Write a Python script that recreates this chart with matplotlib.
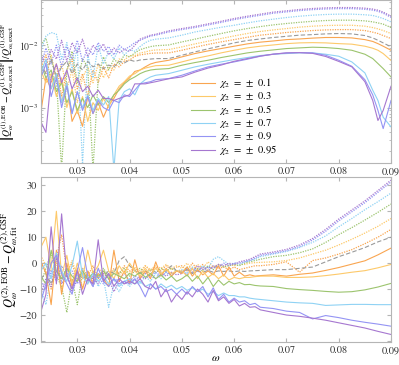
import matplotlib
matplotlib.use("Agg")
import matplotlib.pyplot as plt

# ------------------------------------------------------------
# data
# ------------------------------------------------------------
chi_labels = ["0.1", "0.3", "0.5", "0.7", "0.9", "0.95"]
colors = ["#F9A550", "#FDC96A", "#9CC46E", "#8FD2F4", "#9494F4", "#A677D0"]
gray = "#9A9A9A"

# top panel: frequency grid
w_top = [0.023, 0.024, 0.025, 0.026, 0.027, 0.028, 0.029, 0.030, 0.031, 0.032,
         0.033, 0.034, 0.035, 0.036, 0.037, 0.038, 0.039, 0.040, 0.041, 0.042,
         0.043, 0.044, 0.045,
         0.0475, 0.05, 0.0525, 0.055, 0.0575, 0.06, 0.0625, 0.065, 0.0675, 0.07,
         0.0725, 0.075, 0.0775, 0.08, 0.0825, 0.085, 0.0865, 0.0875, 0.0885, 0.09]

# top panel, solid lines (one per chi value)
top_solid_01 = [0.0008, 0.0030, 0.0020, 0.0035, 0.0012, 0.0025, 0.0006, 0.0009, 0.0005, 0.0015,
                0.0008, 0.0012, 0.0007, 0.0011, 0.0014, 0.0020, 0.0025, 0.0030, 0.0038, 0.0040,
                0.0045, 0.0050, 0.0053,
                0.00574, 0.0065, 0.00735, 0.00811, 0.00884, 0.00964, 0.0105, 0.0112, 0.0117, 0.0123,
                0.0126, 0.0130, 0.0133, 0.0133, 0.0131, 0.0123, 0.0115, 0.0106, 0.00964, 0.0083]
top_solid_03 = [0.0040, 0.0025, 0.0035, 0.0015, 0.0030, 0.0010, 0.0020, 0.0008, 0.0015, 0.0006,
                0.0012, 0.0009, 0.0014, 0.0010, 0.0016, 0.0022, 0.0026, 0.0032, 0.0035, 0.0040,
                0.0043, 0.0045, 0.0047,
                0.00478, 0.0054, 0.00611, 0.00674, 0.00753, 0.0083, 0.00906, 0.00964, 0.0101, 0.0106,
                0.0109, 0.0110, 0.0109, 0.0106, 0.0104, 0.00964, 0.00895, 0.0083, 0.00735, 0.0057]
top_solid_05 = [0.0050, 0.0030, 0.0040, 0.0018, 0.0025, 0.0012, 0.0018, 0.0009, 0.0014, 0.0010,
                0.0016, 0.0011, 0.0015, 0.0012, 0.0016, 0.0019, 0.0024, 0.0028, 0.0031, 0.0035,
                0.0038, 0.0040, 0.0041,
                0.00422, 0.00478, 0.00527, 0.00574, 0.00634, 0.00691, 0.00753, 0.00801, 0.00841, 0.00884,
                0.00906, 0.00929, 0.00917, 0.00884, 0.0083, 0.00717, 0.00611, 0.00508, 0.00422, 0.0031]
top_solid_07 = [0.0035, 0.0060, 0.0020, 0.0035, 0.0012, 0.0025, 0.0008, 0.0018, 0.0010, 0.0016,
                0.0009, 0.0014, 0.0011, 0.0015, 0.00010, 0.0013, 0.0018, 0.0020, 0.0016, 0.0024,
                0.0028, 0.0031, 0.0033,
                0.00351, 0.00397, 0.00449, 0.00495, 0.0054, 0.00589, 0.00634, 0.00683, 0.00717, 0.00735,
                0.00753, 0.00753, 0.00717, 0.00666, 0.0054, 0.0036, 0.0019, 0.0013, 0.0007, 0.00049]
top_solid_09 = [0.0030, 0.0050, 0.0015, 0.0030, 0.0010, 0.0022, 0.0008, 0.0018, 0.0009, 0.0015,
                0.0008, 0.0013, 0.0010, 0.0009, 0.0013, 0.0012, 0.0016, 0.0015, 0.0019, 0.0024,
                0.0025, 0.0026, 0.0028,
                0.00292, 0.0033, 0.00387, 0.00449, 0.00495, 0.0054, 0.00596, 0.00666, 0.00717, 0.00753,
                0.00763, 0.00753, 0.00691, 0.00574, 0.0046, 0.0028, 0.0016, 0.0009, 0.00046, 0.0013]
top_solid_095 = [0.0006, 0.0004, 0.0030, 0.0050, 0.0025, 0.0040, 0.0020, 0.0030, 0.0018, 0.0022,
                 0.0015, 0.0019, 0.0014, 0.0014, 0.0013, 0.0014, 0.0015, 0.0016, 0.0024, 0.0024,
                 0.0024, 0.0025, 0.0026,
                 0.0029, 0.0031, 0.0037, 0.0043, 0.0048, 0.00553, 0.0061, 0.0067, 0.0072, 0.00753,
                 0.0076, 0.0074, 0.0066, 0.0055, 0.0045, 0.0026, 0.0013, 0.00062, 0.0009, 0.0022]

# top panel, dotted lines
top_dot_01 = [0.0045, 0.0070, 0.0025, 0.0050, 0.0015, 0.0040, 0.0060, 0.0020, 0.0035, 0.0015,
              0.0040, 0.0025, 0.0045, 0.0030, 0.0050, 0.0045, 0.0055, 0.0058, 0.0066, 0.0070,
              0.0072, 0.0074, 0.0075,
              0.00753, 0.0083, 0.00929, 0.0103, 0.0113, 0.0123, 0.0134, 0.0145, 0.0152, 0.0160,
              0.0166, 0.0172, 0.0176, 0.0178, 0.0178, 0.0172, 0.0162, 0.0154, 0.0143, 0.0128]
top_dot_03 = [0.0060, 0.0035, 0.0070, 0.0030, 0.0050, 0.0020, 0.0040, 0.0012, 0.0030, 0.0045,
              0.0025, 0.0050, 0.0030, 0.0045, 0.0040, 0.0060, 0.0058, 0.0068, 0.0068, 0.0075,
              0.0078, 0.0082, 0.0084,
              0.00852, 0.0094, 0.0105, 0.0116, 0.0128, 0.0141, 0.0154, 0.0166, 0.0176, 0.0185,
              0.0195, 0.0202, 0.0207, 0.0209, 0.0209, 0.0202, 0.0192, 0.0183, 0.0172, 0.0154]
top_dot_05 = [0.0100, 0.0130, 0.0060, 0.0030, 0.00010, 0.0040, 0.0080, 0.0025, 0.0060, 0.0045,
              0.00010, 0.0030, 0.0065, 0.0040, 0.0060, 0.0050, 0.0070, 0.0065, 0.0075, 0.0085,
              0.0090, 0.0095, 0.0098,
              0.0101, 0.0113, 0.0125, 0.0139, 0.0154, 0.0170, 0.0185, 0.0199, 0.0212, 0.0223,
              0.0233, 0.0242, 0.0249, 0.0252, 0.0252, 0.0246, 0.0237, 0.0228, 0.0218, 0.0192]
top_dot_07 = [0.0080, 0.0140, 0.0160, 0.0150, 0.0060, 0.0110, 0.0040, 0.0090, 0.00012, 0.0070,
              0.0030, 0.0100, 0.0050, 0.0080, 0.0060, 0.0090, 0.0070, 0.0085, 0.0080, 0.0095,
              0.0110, 0.0120, 0.0125,
              0.0131, 0.0145, 0.0163, 0.0178, 0.0194, 0.0209, 0.0228, 0.0246, 0.0262, 0.0278,
              0.0292, 0.0303, 0.0311, 0.0315, 0.0315, 0.0308, 0.0300, 0.0285, 0.0268, 0.0237]
top_dot_09 = [0.0045, 0.0090, 0.0050, 0.0100, 0.0045, 0.0095, 0.0060, 0.0120, 0.0055, 0.0090,
              0.0070, 0.0110, 0.0080, 0.0095, 0.0070, 0.0100, 0.0085, 0.0095, 0.0110, 0.0120,
              0.0130, 0.0140, 0.0145,
              0.0163, 0.0178, 0.0192, 0.0211, 0.0232, 0.0257, 0.0280, 0.0302, 0.0326, 0.0342,
              0.0359, 0.0372, 0.0381, 0.0386, 0.0386, 0.0377, 0.0365, 0.0350, 0.0326, 0.0280]
top_dot_095 = [0.0070, 0.0050, 0.0085, 0.0060, 0.0120, 0.0055, 0.0110, 0.0075, 0.0125, 0.0065,
               0.0100, 0.0080, 0.0105, 0.0070, 0.0090, 0.0075, 0.0085, 0.0080, 0.0100, 0.0125,
               0.0135, 0.0145, 0.0150,
               0.0170, 0.0185, 0.0200, 0.0220, 0.0242, 0.0268, 0.0292, 0.0315, 0.0340, 0.0356,
               0.0374, 0.0388, 0.0397, 0.0402, 0.0402, 0.0393, 0.0380, 0.0365, 0.0340, 0.0292]
top_zero = [0.0050, 0.0035, 0.0060, 0.0030, 0.0045, 0.0055, 0.0035, 0.0050, 0.0040, 0.0055,
            0.0045, 0.0050, 0.0042, 0.0048, 0.0045, 0.0055, 0.0052, 0.0058, 0.0055, 0.0058,
            0.0059, 0.0060, 0.0061,
            0.00611, 0.0069, 0.00782, 0.00874, 0.00976, 0.0109, 0.0119, 0.0126, 0.0133, 0.0139,
            0.0145, 0.0148, 0.0152, 0.0154, 0.0152, 0.0143, 0.0131, 0.0120, 0.0109, 0.0094]

# bottom panel: frequency grid
w_bot = [0.023, 0.024, 0.025, 0.026, 0.027, 0.028, 0.029, 0.030, 0.031, 0.032,
         0.033, 0.034, 0.035, 0.036, 0.037, 0.038, 0.039, 0.040, 0.041, 0.042,
         0.043, 0.044, 0.045, 0.046, 0.047, 0.048, 0.049,
         0.050, 0.051, 0.052, 0.053, 0.054, 0.055, 0.056, 0.057, 0.058, 0.059,
         0.060, 0.061, 0.062, 0.063, 0.064, 0.065,
         0.0675, 0.07, 0.0725, 0.075, 0.0775, 0.08, 0.0825, 0.085, 0.0875, 0.09]

bot_solid_01 = [1, -4, -16, 5, -12, 0, -9, -2, -10, -3, -8, -4, -6, -9, 5, -7, -3, -8, 1.3, -6,
                -3, -6, 0.5, -5, -2, -5, -3,
                -4, -1.5, -5, -2.5, -4.5, -3, -4.5, -1.0, -5, -1.5, -5, -3.5, -5, -4.5, -5, -4.8,
                -4.5, -5.0, -4.3, -3.8, -2.8, -1.7, -0.4, 0.9, 3.2, 5.8]
bot_solid_03 = [6, 10, -2, 20, -5, 3, -8, 0, -6, 5, -4, -1, 5, -3, -6, -1, -4, 0, -3, -5,
                -2, -4.5, -2, -4, -2.5, -4, -3,
                -3, -5, -2, -6, -3, -5.5, -4, -6, -4.5, -6.5, -5.5, -6, -5.5, -5.5, -5.2, -5.0,
                -5.0, -5.5, -5.5, -5.3, -4.8, -4.2, -3.5, -2.9, -1.8, -0.5]
bot_solid_05 = [-5, -8, 5, -3, -6, -2, -5, -7, -3, -6, -4, -5, -3, -6, -4, -5, -6, -4, -5, -3.5,
                -5.5, -4, -6, -4.5, -6.5, -5, -7,
                -6, -4.5, -7, -5, -8, -5.5, -9, -6.5, -8.5, -7, -8, -7.5, -8.3, -8.2, -8.6, -8.8,
                -9.0, -9.8, -10.2, -10.5, -10.9, -11.2, -11.0, -10.3, -9.2, -7.8]
bot_solid_07 = [-3, 0, -6, 4, -3, -7, -1, 8.5, -5, -8, -4, -7, -5, -8, -6, -9, -7, -6, -8, -7,
                -9, -8, -10, -8, -9.5, -8.5, -10,
                -9, -10.5, -9.5, -11, -10, -12, -11, -12.5, -11.5, -12.5, -12.5, -13, -13, -13.5, -13.8, -14,
                -14.5, -15.0, -15.3, -15.5, -16.3, -16.1, -15.9, -15.9, -16.0, -16.0]
bot_solid_09 = [-15, -8, 0, 3, -4, -8, -12, -3, 6, -5, -9, -2, -7, -9, -6, -8, -7, -8, -6, -9,
                -13, -8, -10, -9, -11, -10, -12,
                -10, -12, -9, -11, -9, -13, -9.5, -14, -12, -15, -13.5, -15, -14.5, -16, -15.5, -17,
                -17.5, -18.5, -19.0, -21.5, -20.2, -21.0, -22.0, -22.8, -23.5, -24.3]
bot_solid_095 = [-19, -12, 14, -8, 19, -5, -10, -3, -12, -6, -8, 9, -7, -4, -9, -6, -8, -7, -8, -6,
                 -9, -10, -7, -13, -10, -15, -12,
                 -14, -11, -13, -10, -12, -15, -10.5, -14.5, -13, -15.5, -14, -16.5, -15.5, -17, -16.8, -18,
                 -19.0, -20.0, -20.5, -21.2, -22.0, -23.0, -24.0, -25.0, -26.3, -27.5]

bot_dot_01 = [0, -3, -10, 2, 11, -3, 0, -7, -2, -5, -1, -6, -3, -5, -2, -4, -1, -3, -2, -4,
              -1, -3, -1.5, -3, -1, -2.5, -1.5,
              -1, -3, 0, -2.5, -0.5, -3, -1, -2, -1.5, -2.5, -1.5, -2.5, -2.0, -1.5, -1.0, -1.0,
              -0.5, 0.5, -3.5, 1.0, 2.0, 3.5, 5.2, 7.5, 10.0, 13.0]
bot_dot_03 = [3, -1, -3, 0, -10, -4, 1, -5, -9, -3, -7, -2, -4, -6, -3, -5, -2, -4, -1.5, -3,
              -1, -2.5, -1, -2, -0.5, -2, -1,
              -2, 0, -2.5, -0.5, -2, 0.5, -1.5, -0.5, -1.5, -0.5, -1, -0.5, -0.5, 0, 0.2, 0.3,
              0.5, 1.0, 2.0, 3.5, 5.0, 7.0, 9.2, 11.6, 14.2, 17.2]
bot_dot_05 = [-8, -2, 4, -5, -9, -19, -6, -16, -4, -8, -3, -6, -2, -5, -3, -4, -2, -5, -3, -2,
              -4, -2.5, -3.5, -2, -3, -2, -3,
              -3.5, -1.5, -4, -2, -3, -1, -2.5, -0.5, -1.5, -1, -0.5, -1, 0, 0.5, 1.0, 1.5,
              2.5, 3.0, 4.0, 5.5, 8.0, 11.0, 13.7, 16.6, 19.6, 22.8]
bot_dot_07 = [-10, -16, -4, 2, -7, -3, -10, -5, -2, -7, -4, -9, -6, -17, -8, -11, -7, -9, -6, -8,
              -5, -7, -4, -6, -3.5, -5, -3,
              -2.5, -4, -1.5, -3, -1, -2, 1.5, 2.5, 1.0, -0.5, 0.0, -0.5, 0.5, 1.0, 1.5, 2.5,
              3.5, 4.5, 6.0, 8.0, 10.5, 14.0, 17.2, 20.6, 23.7, 27.0]
bot_dot_09 = [-7, -10, -3, -7, -1, -5, -3, -8, -4, -6, -9, -5, -8, -4, -7, -6, -4, -7, -5, -6,
              -4, -5, -3.5, -5, -3.5, -4.5, -3,
              -3, -4.5, -2, -3.5, -1.5, -3, -1, -1.5, 0, -1, 0, 0, 0.5, 1.0, 2.0, 3.0,
              3.8, 4.8, 6.4, 8.9, 12.3, 16.3, 19.8, 23.3, 27.3, 31.3]
bot_dot_095 = [-12, -6, -9, 2, -8, -4, -11, -6, -3, -7, -5, -8, -4, -6, -11, -7, -8, -6, -7, -5,
               -6, -4.5, -6, -4, -5, -3.5, -4.5,
               -4, -2, -3.5, -1, -2.5, -1.5, -2, -0.5, -1, 0, -0.5, 0.5, 1.0, 1.5, 2.5, 3.5,
               4.3, 5.3, 7.0, 9.5, 13.0, 17.0, 20.5, 24.0, 28.0, 32.0]
bot_zero = [-6, -4, -8, -3, -6, -5, -7, -4, -6, -5, -6, -4, -5, -3, -4, 1, 2.5, -1, -3, -4,
            -3, -4, -3, -3.5, -3, -1, -3,
            -3.5, -2.5, -4, -3, -3.5, -2.8, -3.5, -3, -3.2, -3.0, -3.3, -3.0, -3.2, -3.0, -2.9, -2.8,
            -2.5, -2.5, -2.0, -1.5, 0.5, 2.5, 4.2, 6.0, 8.2, 10.0]

top_solid = [top_solid_01, top_solid_03, top_solid_05, top_solid_07, top_solid_09, top_solid_095]
top_dot = [top_dot_01, top_dot_03, top_dot_05, top_dot_07, top_dot_09, top_dot_095]
bot_solid = [bot_solid_01, bot_solid_03, bot_solid_05, bot_solid_07, bot_solid_09, bot_solid_095]
bot_dot = [bot_dot_01, bot_dot_03, bot_dot_05, bot_dot_07, bot_dot_09, bot_dot_095]

# ------------------------------------------------------------
# style
# ------------------------------------------------------------
plt.rcParams['font.family'] = ['STIXGeneral', 'DejaVu Serif']
plt.rcParams['mathtext.fontset'] = 'stix'

fig = plt.figure(figsize=(3.99, 3.65), dpi=100)
ax1 = fig.add_axes([0.102, 0.5534, 0.878, 0.446])
ax2 = fig.add_axes([0.102, 0.063, 0.878, 0.452])

spine_col = "#B5B5B5"
for ax in (ax1, ax2):
    for s in ax.spines.values():
        s.set_color(spine_col)
        s.set_linewidth(0.8)
    ax.tick_params(which='both', direction='in', top=True, right=True,
                   color=spine_col, labelsize=7.5, labelcolor="#333333")
    ax.tick_params(which='major', length=3, pad=2.5)
    ax.tick_params(which='minor', length=1.6)
    ax.set_xlim(0.023, 0.09)
    ax.set_xticks([0.03, 0.04, 0.05, 0.06, 0.07, 0.08, 0.09])
    ax.set_xticklabels(["0.03", "0.04", "0.05", "0.06", "0.07", "0.08", "0.09"])

# --- top panel: relative error of Q1 ---
for c, yv in zip(colors, top_dot):
    ax1.plot(w_top, yv, color=c, lw=0.9, ls=(0, (1, 1)))
ax1.plot(w_top, top_zero, color=gray, lw=0.8, ls=(0, (4, 2)))
for c, yv, lab in zip(colors, top_solid, chi_labels):
    ax1.plot(w_top, yv, color=c, lw=0.8, label=r'$\chi_2\ =\ \pm\ %s$' % lab)
ax1.set_yscale('log')
ax1.set_ylim(1.29e-4, 0.0527)
ax1.set_yticks([1e-3, 1e-2])
ax1.set_yticklabels([r'$10^{-3}$', r'$10^{-2}$'])
ax1.tick_params(axis='y', which='major', pad=1.5, labelsize=7)
ax1.set_ylabel(r'$\left|Q^{(1),\mathrm{EOB}}_{\omega}-Q^{(1),\mathrm{GSF}}_{\omega,\mathrm{exact}}\right|/Q^{(1),\mathrm{GSF}}_{\omega,\mathrm{exact}}$',
               fontsize=7.0)
ax1.yaxis.set_label_coords(-0.067, 0.5)
ax1.legend(loc='upper left', bbox_to_anchor=(0.415, 0.565), frameon=False,
           fontsize=7.6, handlelength=2.2, handletextpad=0.4, labelspacing=0.0,
           borderpad=0)

# --- bottom panel: difference of Q2 ---
for c, yv in zip(colors, bot_dot):
    ax2.plot(w_bot, yv, color=c, lw=0.9, ls=(0, (1, 1)))
ax2.plot(w_bot, bot_zero, color=gray, lw=0.8, ls=(0, (4, 2)))
for c, yv in zip(colors, bot_solid):
    ax2.plot(w_bot, yv, color=c, lw=0.8)
ax2.set_ylim(-30.4, 33.2)
ax2.set_yticks([-30, -20, -10, 0, 10, 20, 30])
ax2.set_ylabel(r'$Q^{(2),\mathrm{EOB}}_{\omega}-Q^{(2),\mathrm{GSF}}_{\omega,\mathrm{fit}}$',
               fontsize=9)
ax2.yaxis.set_label_coords(-0.055, 0.5)
ax2.set_xlabel(r'$\omega$', fontsize=8, labelpad=-1)

fig.savefig('out.png', dpi=100)
